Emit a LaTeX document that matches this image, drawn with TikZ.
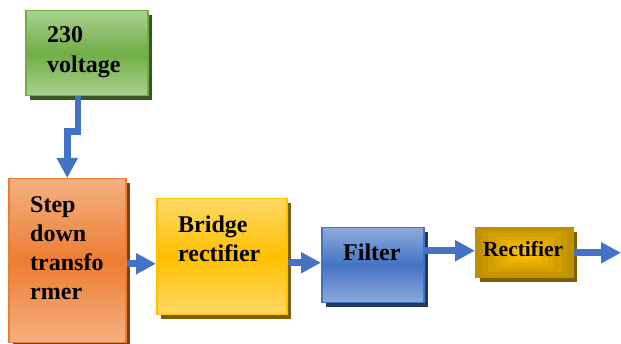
\documentclass[tikz,border=0pt]{standalone}
\usepackage{fontspec}
\setmainfont{Liberation Serif}
\usetikzlibrary{arrows.meta,shadows,calc}

\definecolor{grnL}{HTML}{A9D18E}
\definecolor{grnM}{HTML}{70AD47}
\definecolor{grnS}{HTML}{385723}
\definecolor{orgL}{HTML}{F4B183}
\definecolor{orgM}{HTML}{ED7D31}
\definecolor{orgS}{HTML}{843C0C}
\definecolor{yelL}{HTML}{FFD966}
\definecolor{yelM}{HTML}{FFC000}
\definecolor{yelS}{HTML}{7F6000}
\definecolor{bluL}{HTML}{8FAADC}
\definecolor{bluM}{HTML}{4472C4}
\definecolor{bluS}{HTML}{203864}
\definecolor{goldD}{HTML}{BF9000}
\definecolor{goldL}{HTML}{FFC000}
\definecolor{goldS}{HTML}{7F6000}
\definecolor{arrowblue}{HTML}{4472C4}

\begin{document}
\begin{tikzpicture}[x=1pt,y=-1pt,
  block/.style={rectangle, line width=1.5pt, anchor=north west, inner sep=0pt},
  shade3/.style n args={3}{draw=#2, top color=#1, bottom color=#1, middle color=#2,
    drop shadow={shadow xshift=4pt, shadow yshift=-4pt, fill=#3, opacity=1}},
  lbl/.style={anchor=base west, inner sep=0pt, font=\bfseries\fontsize{24}{29}\selectfont},
  flow/.style={draw=arrowblue, line width=6.5pt, -{Triangle[length=20pt,width=20pt]}},
]
\useasboundingbox (0,0) rectangle (621,344);

% blocks
\node[block, shade3={grnL}{grnM}{grnS}, minimum width=122pt, minimum height=85pt]
  (green) at (25,10) {};
\node[block, shade3={orgL}{orgM}{orgS}, minimum width=117pt, minimum height=164pt]
  (orange) at (8,178) {};
\node[block, shade3={yelL}{yelM}{yelS}, minimum width=130pt, minimum height=116pt]
  (bridge) at (156,198) {};
\node[block, shade3={bluL}{bluM}{bluS}, minimum width=102pt, minimum height=75pt]
  (filter) at (321,227) {};
\node[block, draw=goldD, fill=goldD, minimum width=97pt, minimum height=50pt,
  drop shadow={shadow xshift=4pt, shadow yshift=-4pt, fill=goldS, opacity=1}]
  (rect) at (475,227) {};

% concentric bands inside the last block
\foreach \i in {1,...,6} {
  \pgfmathtruncatemacro\pct{100-\i*15}
  \fill[goldD!\pct!goldL]
    ($(rect.north west)+(\i*6.5,\i*3.2)$) rectangle ($(rect.south east)+(-\i*6.5,-\i*3.2)$);
}

% labels
\node[lbl] (v1) at (47,43) {230};
\node[lbl] (v2) at (47,73) {voltage};
\node[lbl] (s1) at (30,213) {Step};
\node[lbl] (s2) at (30,242) {down};
\node[lbl] (s3) at (30,271) {transfo};
\node[lbl] (s4) at (30,300) {rmer};
\node[lbl] (b1) at (178,233) {Bridge};
\node[lbl] (b2) at (178,262) {rectifier};
\node[lbl] (f1) at (343,261) {Filter};
\node[lbl, font=\bfseries\fontsize{21.5}{26}\selectfont] (r1) at (483,256.5) {Rectifier};

% connectors
\coordinate (out) at (621,252);
\draw[flow] ([xshift=-9pt]green.south) -- ++(0,35) -| (orange.north);
\draw[flow] ($(orange.east)+(0,3)$) -- ($(orange.east -| bridge.west)+(0,3)$);
\draw[flow] ($(bridge.east)+(0,6)$) -- ($(bridge.east -| filter.west)+(0,6)$);
\draw[flow] ($(filter.east |- rect.west)+(0,-2)$) -- ($(rect.west)+(0,-2)$);
\draw[flow] (rect.east) -- (out |- rect.east);
\end{tikzpicture}
\end{document}
